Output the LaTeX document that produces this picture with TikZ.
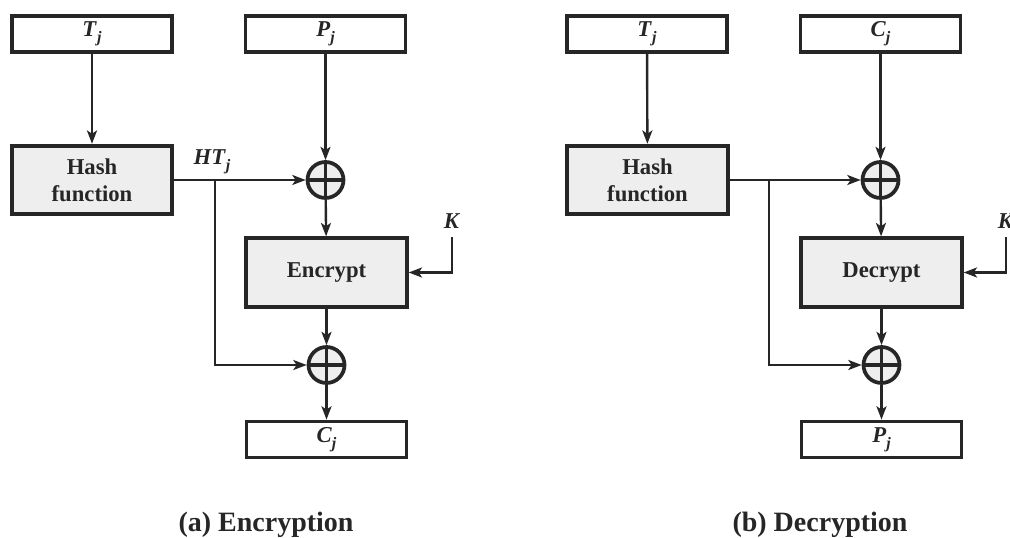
\documentclass[tikz,border=0pt]{standalone}
\usepackage{fontspec}
\setmainfont{Liberation Serif}
\usetikzlibrary{arrows.meta}
\definecolor{ink}{HTML}{262626}
\definecolor{boxfill}{HTML}{EEEEEE}
\newcommand{\subj}{\raisebox{-0.55ex}{\fontsize{12}{12}\selectfont\itshape j}}
\begin{document}
\begin{tikzpicture}[x=0.75pt,y=-0.75pt,
  every node/.style={text=ink, font=\fontsize{17}{20.5}\selectfont\bfseries},
  databox/.style={draw=ink, line width=2.8pt, minimum width=120pt, minimum height=27pt, inner sep=0pt},
  procbox/.style={draw=ink, fill=boxfill, line width=2.8pt, minimum width=120.5pt, minimum height=51.5pt, inner sep=0pt, align=center},
  xor/.style={circle, draw=ink, fill=boxfill, line width=2.8pt, minimum size=27pt, inner sep=0pt,
    path picture={\draw[ink,line width=2.4pt] (path picture bounding box.north) -- (path picture bounding box.south)
      (path picture bounding box.west) -- (path picture bounding box.east);}},
  flow/.style={draw=ink, line width=1.8pt, -{Stealth[length=10pt,width=7.5pt,inset=2.5pt]}},
  caption/.style={font=\fontsize{21}{25}\selectfont\bfseries, anchor=base}
]
\useasboundingbox (0,0) rectangle (1010,538);

% ---------- (a) Encryption ----------
\node[databox] (tj1) at (92,34) {\textit{T}\subj};
\node[databox] (pj1) at (325.5,34) {\textit{P}\subj};
\node[procbox] (hash1) at (92,180) {Hash\\function};
\node[xor] (xa1) at (325.5,180) {};
\node[procbox] (enc) at (326.5,272.5) {Encrypt};
\node[xor] (xa2) at (326.5,365) {};
\node[databox] (cj1) at (326.5,439.5) {\textit{C}\subj};
\node (ht) at (212,162) {\textit{HT}\subj};
\node (ka) at (452,221) {\textit{K}};
\coordinate (kta) at (452,237);
\coordinate (ba) at (215,180);

\draw[flow] (tj1) -- (hash1);
\draw[flow] (pj1) -- (xa1);
\draw[flow] (hash1) -- (xa1);
\draw[flow] (xa1) -- (enc);
\draw[flow] (kta) |- (enc.east);
\draw[flow] (enc) -- (xa2);
\draw[flow] (ba) |- (xa2.west);
\draw[flow] (xa2) -- (cj1);

\node[caption] (capa) at (266,531) {(a) Encryption};

% ---------- (b) Decryption ----------
\node[databox] (tj2) at (647,34) {\textit{T}\subj};
\node[databox] (cj2) at (880.5,34) {\textit{C}\subj};
\node[procbox] (hash2) at (647.5,180) {Hash\\function};
\node[xor] (xb1) at (880.5,180) {};
\node[procbox] (dec) at (881.5,272.5) {Decrypt};
\node[xor] (xb2) at (881.5,365) {};
\node[databox] (pj2) at (881.5,439.5) {\textit{P}\subj};
\node (kb) at (1006,221) {\textit{K}};
\coordinate (ktb) at (1006,237);
\coordinate (bb) at (769,180);

\draw[flow] (tj2) -- (hash2);
\draw[flow] (cj2) -- (xb1);
\draw[flow] (hash2) -- (xb1);
\draw[flow] (xb1) -- (dec);
\draw[flow] (ktb) |- (dec.east);
\draw[flow] (dec) -- (xb2);
\draw[flow] (bb) |- (xb2.west);
\draw[flow] (xb2) -- (pj2);

\node[caption] (capb) at (820,531) {(b) Decryption};
\end{tikzpicture}
\end{document}
